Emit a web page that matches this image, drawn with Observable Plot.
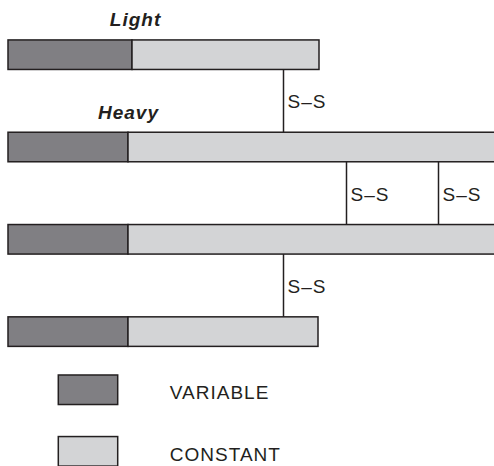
<!DOCTYPE html>
<html>
<head>
<meta charset="utf-8">
<script src="https://cdn.jsdelivr.net/npm/d3@7"></script>
<script src="https://cdn.jsdelivr.net/npm/@observablehq/plot@0.6"></script>
<style>
  html, body { margin: 0; padding: 0; background: #fff; }
  #chart svg text { letter-spacing: 1px; }
</style>
</head>
<body>
<div id="chart"></div>
<script>
// Chains of the antibody, top to bottom (row index = position in list)
const chainNames   = ["Light", "Heavy", "Heavy", "Light"];
const variableEnd  = [124, 120, 120, 120];   // end of variable domain (length units)
const constantEnd  = [311, 500, 500, 310];   // end of constant domain (heavy runs off the page)
const chainLabels  = ["Light", "Heavy", null, null];
// Disulfide bonds: between row r and row r+1 at position x
const bondRows     = [0, 1, 1, 2];
const bondPos      = [275, 338, 430, 275];
const bondText     = "S–S";
// Legend
const legendNames  = ["VARIABLE", "CONSTANT"];
const legendColors = ["#807f83", "#d3d4d6"];

const half = 0.16;
const stroke = "#231f20";

const segments = [];
chainNames.forEach((name, r) => {
  segments.push({row: r, x1: 0, x2: variableEnd[r], kind: "VARIABLE"});
  segments.push({row: r, x1: variableEnd[r], x2: constantEnd[r], kind: "CONSTANT"});
});
const labels = chainLabels
  .map((t, r) => ({row: r, text: t, x: variableEnd[r] + (r === 0 ? 3 : 0)}))
  .filter(d => d.text);
const bonds = bondRows.map((r, i) => ({row: r, x: bondPos[i]}));
const legend = legendNames.map((n, i) => ({name: n, color: legendColors[i], row: 3.63 + 0.667 * i}));

const color = {domain: legendNames, range: legendColors};

const chart = Plot.plot({
  width: 494,
  height: 466,
  marginTop: 0, marginBottom: 0, marginLeft: 0, marginRight: 0,
  x: {domain: [-8, 486], axis: null},
  y: {domain: [-0.5926, 4.456], reverse: true, axis: null},
  color: {...color, type: "ordinal"},
  style: {fontFamily: "'Liberation Sans', Arial, sans-serif", color: "#231f20"},
  marks: [
    Plot.rect(segments, {
      x1: "x1", x2: "x2",
      y1: d => d.row - half, y2: d => d.row + half,
      fill: "kind", stroke, strokeWidth: 1.5, clip: true, inset: 0
    }),
    Plot.ruleX(bonds, {
      x: "x", y1: d => d.row + half, y2: d => d.row + 1 - half,
      stroke, strokeWidth: 1.5
    }),
    Plot.text(bonds, {
      x: "x", y: d => d.row + 0.5, text: () => bondText,
      textAnchor: "start", dx: 4, dy: 1, fontSize: 19, fill: stroke
    }),
    Plot.text(labels, {
      x: "x", y: "row", text: "text", dy: -35,
      fontSize: 19, fontWeight: "bold", fontStyle: "italic", fill: stroke
    }),
    Plot.rect(legend, {
      x1: () => 50.3, x2: () => 109.7,
      y1: d => d.row - half, y2: d => d.row + half,
      fill: "name", stroke, strokeWidth: 1.5, inset: 0
    }),
    Plot.text(legend, {
      x: () => 161.3, y: "row", text: "name", dy: 3,
      textAnchor: "start", fontSize: 19, fill: stroke
    })
  ]
});
document.getElementById("chart").appendChild(chart);
</script>
</body>
</html>
